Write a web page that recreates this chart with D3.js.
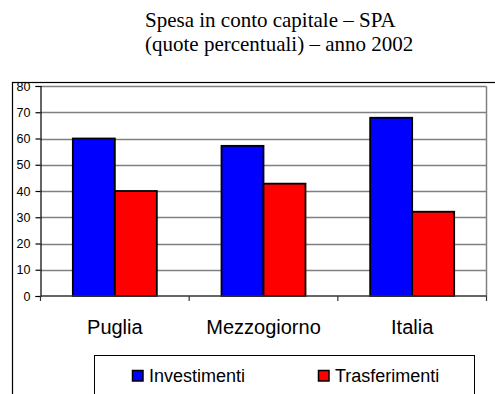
<!DOCTYPE html>
<html>
<head>
<meta charset="utf-8">
<script src="https://cdn.jsdelivr.net/npm/d3@7/dist/d3.min.js"></script>
<style>
  html, body { margin: 0; padding: 0; background: #fff; }
  svg { display: block; }
</style>
</head>
<body>
<svg id="chart" width="495" height="394"></svg>
<script>
// Spesa in conto capitale – quote percentuali, anno 2002
const categories = ["Puglia", "Mezzogiorno", "Italia"];
const seriesNames = ["Investimenti", "Trasferimenti"];
const investimenti = [60.0, 57.2, 67.9];
const trasferimenti = [40.0, 42.8, 32.1];
const yTicks = [0, 10, 20, 30, 40, 50, 60, 70, 80];
const titleLines = ["Spesa in conto capitale – SPA", "(quote percentuali) – anno 2002"];
const seriesColors = ["#0000FF", "#FF0000"];

const seriesValues = [investimenti, trasferimenti];
const rows = categories.map((c, i) => ({
  category: c,
  values: seriesNames.map((s, k) => ({ series: s, value: seriesValues[k][i] }))
}));

const svg = d3.select("#chart");
const sans = "'Liberation Sans', Arial, sans-serif";
const serif = "'Liberation Serif', 'Times New Roman', serif";

// Title
svg.append("g")
  .selectAll("text")
  .data(titleLines)
  .join("text")
  .attr("x", 145)
  .attr("y", (d, i) => 27 + i * 24)
  .attr("font-family", serif)
  .attr("font-size", 21)
  .attr("fill", "#000")
  .text(d => d);

// Outer chart frame
svg.append("rect")
  .attr("x", 12.5).attr("y", 82.5)
  .attr("width", 520).attr("height", 360)
  .attr("fill", "none").attr("stroke", "#000").attr("stroke-width", 1.2);

const plot = { left: 40.5, right: 486.5, top: 86, bottom: 296 };

const x0 = d3.scaleBand()
  .domain(categories)
  .range([plot.left, plot.right])
  .padding(0);

const x1 = d3.scaleBand()
  .domain(seriesNames)
  .range([0, x0.bandwidth()])
  .paddingInner(0)
  .paddingOuter(0.77);

const y = d3.scaleLinear()
  .domain([0, 80])
  .range([plot.bottom, plot.top]);

const color = d3.scaleOrdinal().domain(seriesNames).range(seriesColors);

// Horizontal gridlines
svg.append("g")
  .selectAll("line")
  .data(yTicks.filter(t => t > 0))
  .join("line")
  .attr("x1", plot.left).attr("x2", plot.right)
  .attr("y1", d => Math.round(y(d)) + 0.5)
  .attr("y2", d => Math.round(y(d)) + 0.5)
  .attr("stroke", "#808080").attr("stroke-width", 1.3);

// Plot area right edge
svg.append("line")
  .attr("x1", plot.right).attr("x2", plot.right)
  .attr("y1", Math.round(y(80)) + 0.5).attr("y2", plot.bottom)
  .attr("stroke", "#808080").attr("stroke-width", 1.5);

// Bars
const groups = svg.append("g")
  .selectAll("g")
  .data(rows)
  .join("g")
  .attr("transform", d => `translate(${x0(d.category)},0)`);

groups.selectAll("rect")
  .data(d => d.values)
  .join("rect")
  .attr("x", d => x1(d.series))
  .attr("y", d => y(d.value))
  .attr("width", x1.bandwidth())
  .attr("height", d => y(0) - y(d.value))
  .attr("fill", d => color(d.series))
  .attr("stroke", "#000")
  .attr("stroke-width", 1.8);

// Y axis
const yAxis = svg.append("g")
  .attr("transform", `translate(${plot.left},0)`)
  .call(d3.axisLeft(y).tickValues(yTicks).tickSize(5).tickPadding(5));
yAxis.select(".domain").attr("stroke", "#000").attr("stroke-width", 1.2);
yAxis.selectAll(".tick line").attr("stroke", "#000").attr("stroke-width", 1.2);
yAxis.selectAll(".tick text")
  .attr("font-family", sans).attr("font-size", 12.5).attr("fill", "#000");

// X axis: boundary ticks between categories
const xAxisG = svg.append("g")
  .attr("transform", `translate(0,${plot.bottom})`);
xAxisG.append("line")
  .attr("x1", plot.left).attr("x2", plot.right)
  .attr("y1", 0).attr("y2", 0)
  .attr("stroke", "#333").attr("stroke-width", 1.5);
const boundaries = categories.map(c => x0(c)).concat([x0(categories[categories.length - 1]) + x0.bandwidth()]);
xAxisG.selectAll("line.bt")
  .data(boundaries)
  .join("line")
  .attr("class", "bt")
  .attr("x1", d => d).attr("x2", d => d)
  .attr("y1", 0).attr("y2", 5)
  .attr("stroke", "#333").attr("stroke-width", 1.2);

// Category labels
svg.append("g")
  .call(g => g.attr("transform", `translate(0,${plot.bottom})`)
    .call(d3.axisBottom(x0).tickSize(0).tickPadding(0))
    .call(a => a.select(".domain").remove())
    .call(a => a.selectAll(".tick text")
      .attr("dy", null)
      .attr("y", 38)
      .attr("font-family", sans)
      .attr("font-size", 20)
      .attr("fill", "#000")));

// Legend
const legend = svg.append("g");
legend.append("rect")
  .attr("x", 94.5).attr("y", 355.5)
  .attr("width", 380).attr("height", 60)
  .attr("fill", "#fff").attr("stroke", "#000").attr("stroke-width", 1);

const legendX = [132, 318];
const items = legend.selectAll("g.item")
  .data(seriesNames)
  .join("g")
  .attr("class", "item")
  .attr("transform", (d, i) => `translate(${legendX[i]},370.5)`);
items.append("rect")
  .attr("x", 0.5).attr("y", 0)
  .attr("width", 10.5).attr("height", 10.5)
  .attr("fill", d => color(d))
  .attr("stroke", "#000").attr("stroke-width", 1.5);
items.append("text")
  .attr("x", 17).attr("y", 11)
  .attr("font-family", sans).attr("font-size", 18)
  .attr("fill", "#000")
  .text(d => d);
</script>
</body>
</html>
